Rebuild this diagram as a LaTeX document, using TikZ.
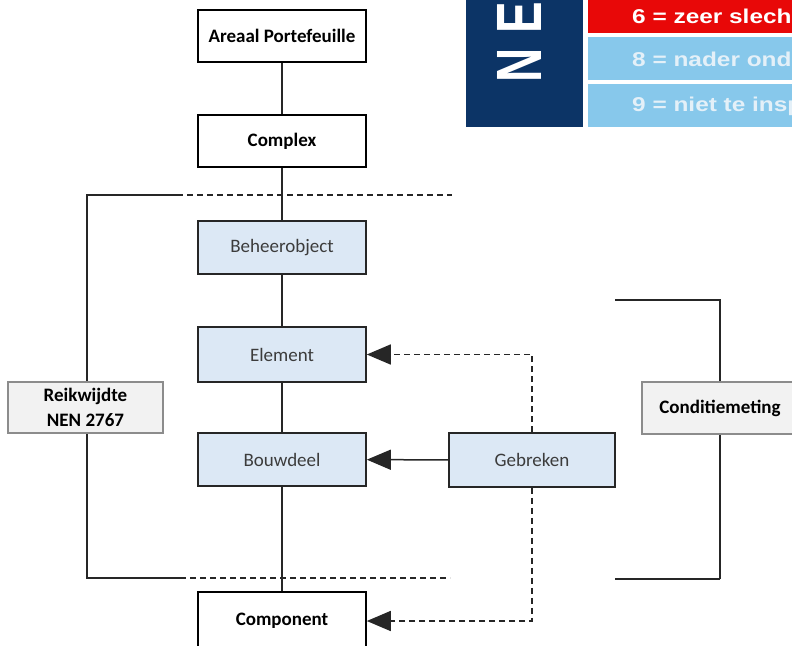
\documentclass[tikz,border=0pt]{standalone}
\usepackage{fontspec}
\setmainfont{Carlito}
\newfontfamily\arialb[LetterSpace=32]{Liberation Sans Bold}
\newfontfamily\bandfont{Liberation Sans Bold}
\usetikzlibrary{arrows.meta}
\definecolor{boxblue}{RGB}{220,232,245}
\definecolor{boxgray}{RGB}{242,242,242}
\definecolor{bordgray}{RGB}{140,140,140}
\definecolor{txtgray}{RGB}{60,60,60}
\definecolor{navy}{RGB}{12,52,102}
\definecolor{nenred}{RGB}{232,8,8}
\definecolor{bandblue}{RGB}{135,200,235}
\definecolor{bandtxt}{RGB}{228,240,248}
\tikzset{
  whitebox/.style={draw=black, line width=1.6pt, fill=white, minimum width=168pt, minimum height=52pt, inner sep=0pt, font=\fontsize{19}{22}\selectfont\bfseries},
  bluebox/.style={draw=black!85, line width=1.6pt, fill=boxblue, minimum width=168pt, minimum height=53pt, inner sep=0pt, text=txtgray, font=\fontsize{19}{22}\selectfont},
  graybox/.style={draw=bordgray, line width=1.2pt, fill=boxgray, minimum width=155pt, minimum height=51pt, inner sep=0pt, align=center, font=\fontsize{19}{25}\selectfont\bfseries},
  link/.style={line width=1.5pt, black!85},
  dlink/.style={line width=1.6pt, black!85, dash pattern=on 6pt off 4pt},
  arr/.style={-{Triangle[length=24pt,width=20pt]}},
  bandtext/.style={anchor=west, inner sep=0pt, font=\fontsize{20}{20}\selectfont\bandfont}
}
\begin{document}
\begin{tikzpicture}[x=1pt,y=-1pt]
\useasboundingbox (0,0) rectangle (792,645);
\clip (0,0) rectangle (792,645);
\fill[white] (0,0) rectangle (792,645);

% NEN logo fragment
\fill[navy] (466,-5) rectangle (583,127);
\fill[nenred] (588,-5) rectangle (800,33);
\fill[bandblue] (588,37) rectangle (800,80);
\fill[bandblue] (588,84) rectangle (800,127);
\node[rotate=90, anchor=base west, inner sep=0pt, text=white, font=\fontsize{64}{64}\arialb] (nen) at (541,83) {\scalebox{0.74}[1]{NE}};
\node[bandtext, text=white] (b6) at (632,16) {\scalebox{1.22}[1]{6 = zeer slech}};
\node[bandtext, text=bandtxt] (b8) at (632,59) {\scalebox{1.22}[1]{8 = nader ond}};
\node[bandtext, text=bandtxt] (b9) at (632,106) {\scalebox{1.22}[1]{9 = niet te insp}};

% brackets
\coordinate (lt) at (177,195);
\coordinate (ltc) at (87,195);
\coordinate (lbc) at (87,578);
\coordinate (lb) at (180,578);
\coordinate (ltd) at (452,195);
\coordinate (lbd) at (450,578);
\draw[link] (lt) -- (ltc) -- (lbc) -- (lb);
\draw[dlink] (lt) -- (ltd);
\draw[dlink] (lb) -- (lbd);

\coordinate (rt) at (615,300);
\coordinate (rb) at (615,579);
\draw[link] (rt) -| (rb -| 720,0) coordinate (rbc) (rbc) -- (rb);

% main chain nodes
\node[whitebox] (areaal) at (282,36) {Areaal Portefeuille};
\node[whitebox] (complex) at (282,141) {Complex};
\node[bluebox] (beheer) at (282,247.5) {Beheerobject};
\node[bluebox, minimum height=55pt] (element) at (282,354.5) {Element};
\node[bluebox] (bouwdeel) at (282,459.5) {Bouwdeel};
\node[whitebox, minimum height=58pt] (component) at (282,621) {Component};
\node[bluebox, minimum width=166pt, minimum height=54pt] (gebreken) at (532,460) {Gebreken};

\node[graybox] (reik) at (85.5,407.5) {Reikwijdte\\NEN 2767};
\node[graybox, minimum width=156pt, minimum height=52pt] (cond) at (720,408) {Conditiemeting};

% chain connectors
\draw[link] (areaal) -- (complex);
\draw[link] (complex) -- (beheer);
\draw[link] (beheer) -- (element);
\draw[link] (element) -- (bouwdeel);
\draw[link] (bouwdeel) -- (component);

% arrows from Gebreken
\draw[link, arr] (gebreken) -- (bouwdeel);
\draw[dlink, arr] (gebreken.north) |- (element.east);
\draw[dlink, arr] (gebreken.south) |- (component.east);
\end{tikzpicture}
\end{document}
